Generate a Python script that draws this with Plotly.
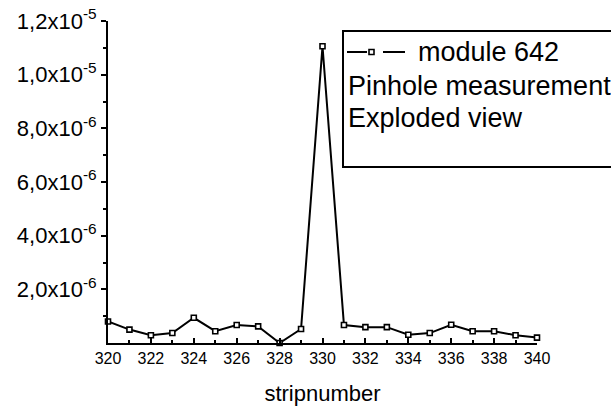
import plotly.graph_objects as go

strips = list(range(320, 341))
values = [0.80e-6, 0.50e-6, 0.29e-6, 0.37e-6, 0.94e-6, 0.44e-6, 0.67e-6, 0.62e-6,
          0.0, 0.52e-6, 11.06e-6, 0.67e-6, 0.59e-6, 0.59e-6, 0.31e-6, 0.37e-6,
          0.68e-6, 0.44e-6, 0.44e-6, 0.29e-6, 0.20e-6]

y_tickvals = [2e-6, 4e-6, 6e-6, 8e-6, 1.0e-5, 1.2e-5]
y_ticktext = ["2,0x10<sup>-6</sup>", "4,0x10<sup>-6</sup>", "6,0x10<sup>-6</sup>",
              "8,0x10<sup>-6</sup>", "1,0x10<sup>-5</sup>", "1,2x10<sup>-5</sup>"]
x_tickvals = list(range(320, 341, 2))

legend_lines = ["module 642", "Pinhole measurement", "Exploded view"]

FONT = "Liberation Sans, Arial, sans-serif"

fig = go.Figure()
fig.add_trace(go.Scatter(
    x=strips, y=values, mode="lines+markers",
    line=dict(color="black", width=2),
    marker=dict(symbol="square", size=5, color="white",
                line=dict(color="black", width=1.6)),
    showlegend=False, cliponaxis=False,
))

fig.update_layout(
    width=611, height=406,
    margin=dict(l=108, r=74, t=21, b=63),
    paper_bgcolor="white", plot_bgcolor="white",
    font=dict(family=FONT, color="black"),
    xaxis=dict(
        range=[320, 340], tickmode="array", tickvals=x_tickvals,
        ticks="inside", ticklen=5, tickwidth=1.5, tickcolor="black",
        minor=dict(dtick=1, tick0=320, ticks="inside", ticklen=3, tickwidth=1.5, tickcolor="black"),
        showline=True, linecolor="black", linewidth=2,
        showgrid=False, zeroline=False, automargin=False,
        tickfont=dict(size=16, family=FONT),
        title=dict(text="stripnumber", font=dict(size=22, family=FONT), standoff=22),
    ),
    yaxis=dict(
        range=[0, 1.2e-5], tickmode="array", tickvals=y_tickvals, ticktext=y_ticktext,
        ticks="outside", ticklen=5, tickwidth=1.5, tickcolor="black",
        minor=dict(tickvals=[1e-6, 3e-6, 5e-6, 7e-6, 9e-6, 1.1e-5],
                   ticks="outside", ticklen=3, tickwidth=1.5, tickcolor="black"),
        showline=True, linecolor="black", linewidth=2,
        showgrid=False, zeroline=False, automargin=False,
        tickfont=dict(size=22, family=FONT),
    ),
)

# Legend box (extends beyond right edge like the original)
W, H = 429.0, 322.0
def px(x):
    return (x - 108) / W
def py(y):
    return (343 - y) / H

fig.add_shape(type="rect", xref="paper", yref="paper",
              x0=px(343), x1=px(640), y0=py(167), y1=py(31),
              line=dict(color="black", width=2), fillcolor="white", layer="above")
fig.add_shape(type="line", xref="paper", yref="paper",
              x0=px(347), x1=px(367), y0=py(52), y1=py(52),
              line=dict(color="black", width=2))
fig.add_shape(type="line", xref="paper", yref="paper",
              x0=px(383), x1=px(405), y0=py(52), y1=py(52),
              line=dict(color="black", width=2))
fig.add_shape(type="rect", xref="paper", yref="paper",
              x0=px(369), x1=px(374), y0=py(54.5), y1=py(49.5),
              line=dict(color="black", width=1.6), fillcolor="white")

fig.add_annotation(xref="paper", yref="paper", x=px(416), y=py(52),
                   text=legend_lines[0], showarrow=False, xanchor="left", yanchor="middle",
                   font=dict(size=27, family=FONT, color="black"))
fig.add_annotation(xref="paper", yref="paper", x=px(346), y=py(86),
                   text=legend_lines[1], showarrow=False, xanchor="left", yanchor="middle",
                   font=dict(size=27, family=FONT, color="black"))
fig.add_annotation(xref="paper", yref="paper", x=px(346), y=py(118),
                   text=legend_lines[2], showarrow=False, xanchor="left", yanchor="middle",
                   font=dict(size=27, family=FONT, color="black"))

fig.write_html("out.html")
